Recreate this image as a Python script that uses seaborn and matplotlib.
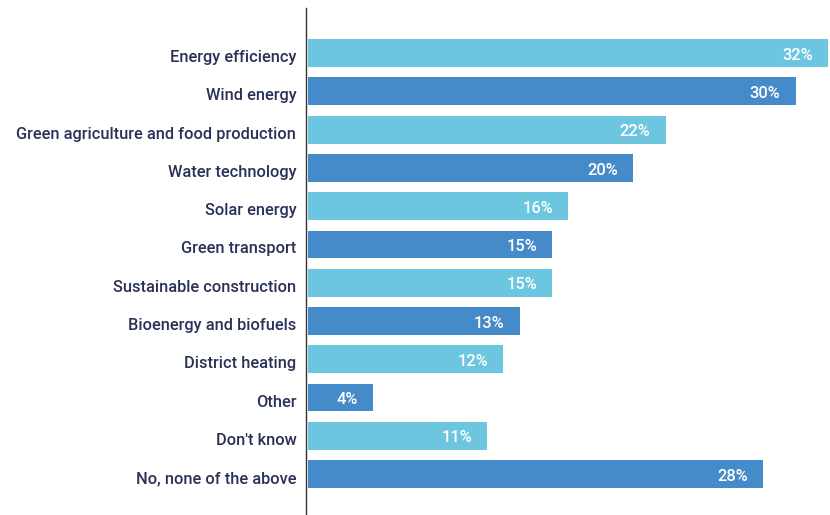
import matplotlib
matplotlib.use("Agg")
import matplotlib.pyplot as plt
import matplotlib.transforms as mtransforms
import seaborn as sns
import pandas as pd

categories = [
    "Energy efficiency",
    "Wind energy",
    "Green agriculture and food production",
    "Water technology",
    "Solar energy",
    "Green transport",
    "Sustainable construction",
    "Bioenergy and biofuels",
    "District heating",
    "Other",
    "Don't know",
    "No, none of the above",
]
shares = [32, 30, 22, 20, 16, 15, 15, 13, 12, 4, 11, 28]

LIGHT = "#6cc6df"
DARK = "#468bc9"
bar_colors = [LIGHT if i % 2 == 0 else DARK for i in range(len(categories))]

df = pd.DataFrame({"category": categories, "share": shares})

sns.set_theme(style="white")
plt.rcParams["font.family"] = ["Roboto", "DejaVu Sans"]

fig = plt.figure(figsize=(8.3, 5.15), dpi=100)
W, H = 830, 515
ax = fig.add_axes([306 / W, 0 / H, (830 - 306) / W, (515 - 8) / H])

sns.barplot(
    data=df, x="share", y="category", hue="category",
    palette=bar_colors, legend=False, width=0.73, ax=ax,
    saturation=1, orient="h", linewidth=0,
)

ax.set_xlim(-0.15, 32.1)
ax.set_ylim(12.07, -1.18)
ax.set_xlabel("")
ax.set_ylabel("")
ax.set_xticks([])

for side in ("top", "right", "bottom"):
    ax.spines[side].set_visible(False)
ax.spines["left"].set_color("#333333")
ax.spines["left"].set_linewidth(1.0)

# category labels sit a touch below the bar centres
label_shift = mtransforms.ScaledTranslation(0, -3 / 100, fig.dpi_scale_trans)
ax.tick_params(axis="y", length=0, pad=7)
for lbl in ax.get_yticklabels():
    lbl.set_fontsize(11.8)
    lbl.set_color("#2a3158")
    lbl.set_fontweight("medium")
    lbl.set_transform(lbl.get_transform() + label_shift)

for i, v in enumerate(shares):
    ax.annotate(
        f"{v}%", xy=(v, i), xytext=(-11, -1.5), textcoords="offset points",
        ha="right", va="center", color="white", fontsize=11.8, fontweight="medium",
    )

fig.savefig("out.png", dpi=100)
